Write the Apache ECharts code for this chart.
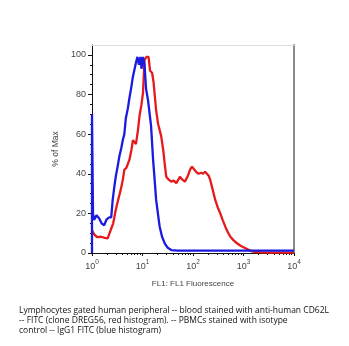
<!DOCTYPE html>
<html><head><meta charset="utf-8">
<script src="https://cdn.jsdelivr.net/npm/echarts@6/dist/echarts.min.js"></script>
<style>html,body{margin:0;padding:0;background:#fff}#c{width:349px;height:346px}</style>
</head><body><div id="c"></div>
<script>
// x positions are log10(FL1 fluorescence); y values are % of Max
var decadeExponents = [0, 1, 2, 3, 4];
var yTickValues = [0, 20, 40, 60, 80, 100];
var redLogFL = [0, 0.04, 0.1, 0.18, 0.25, 0.31, 0.37, 0.42, 0.47, 0.52, 0.57, 0.61, 0.64, 0.68, 0.74, 0.78, 0.81, 0.87, 0.91, 0.94, 0.98, 1.01, 1.04, 1.08, 1.12, 1.15, 1.19, 1.22, 1.27, 1.31, 1.37, 1.41, 1.44, 1.47, 1.52, 1.57, 1.62, 1.67, 1.71, 1.74, 1.79, 1.84, 1.9, 1.94, 1.98, 2.01, 2.06, 2.11, 2.16, 2.2, 2.24, 2.27, 2.31, 2.34, 2.39, 2.44, 2.49, 2.54, 2.59, 2.64, 2.69, 2.74, 2.8, 2.87, 2.95, 3.04, 3.1, 3.17, 3.25, 3.35, 3.5, 3.7, 4];
var redPct = [11.5, 9.5, 8, 8.2, 7.6, 7.4, 11.6, 15, 21.7, 27, 32, 37, 42, 43, 47, 52, 57, 55, 62, 69, 75, 81, 97.5, 99, 99, 92, 91, 86, 72, 65, 59, 52, 45, 38.5, 37, 36, 36.5, 35.3, 37, 38.5, 37, 36, 39, 42, 43.6, 43.6, 41, 40, 40.5, 40, 41, 42, 39, 37, 32, 26.8, 23, 20, 16.5, 13.3, 10.5, 8.2, 6.5, 4.9, 3.5, 2.4, 1.6, 0.8, 0.5, 0.3, 0.2, 0.2, 0.2];
var blueLogFL = [0, 0, 0.02, 0.04, 0.09, 0.14, 0.19, 0.24, 0.29, 0.34, 0.38, 0.41, 0.44, 0.47, 0.51, 0.54, 0.58, 0.61, 0.64, 0.67, 0.71, 0.74, 0.78, 0.81, 0.84, 0.87, 0.9, 0.93, 0.96, 0.98, 1.01, 1.04, 1.07, 1.11, 1.14, 1.17, 1.21, 1.24, 1.27, 1.31, 1.34, 1.39, 1.44, 1.5, 1.57, 1.7, 2, 2.5, 3, 3.5, 4];
var bluePct = [0, 70, 20, 16.7, 19, 17.5, 15, 14, 17, 18, 18, 26.8, 33, 38.5, 44, 48.6, 53, 57, 60, 68, 73, 78, 84, 89, 88, 96, 99, 95, 99, 93, 99, 95, 83, 77, 76, 64, 47, 37, 26.8, 19, 13.3, 8, 4.9, 2.6, 1.5, 1.2, 1.2, 1.2, 1.2, 1.2, 1.2];
var xMinorTicks = [];
for (var d = 0; d < 4; d++) { for (var k = 2; k <= 9; k++) { xMinorTicks.push(d + Math.log10(k)); } }
var yMinorTicks = [];
for (var v = 0; v <= 100; v += 5) { yMinorTicks.push(v); }

function pairs(xs, ys) { return xs.map(function (x, i) { return [x, ys[i]]; }); }

var chart = echarts.init(document.getElementById('c'), null, { renderer: 'canvas' });
var labelFont = 'Liberation Sans';
chart.setOption({
  animation: false,
  backgroundColor: '#fff',
  grid: { left: 92, right: 55, top: 45, bottom: 93, containLabel: false },
  title: {
    text: 'Lymphocytes gated human peripheral -- blood stained with anti-human CD62L\n-- FITC (clone DREG56, red histogram). -- PBMCs stained with isotype\ncontrol -- IgG1 FITC (blue histogram)',
    left: 14, top: 301,
    textStyle: { fontFamily: 'Open Sans', fontSize: 8.5, fontWeight: 'normal', color: '#111', lineHeight: 10 }
  },
  xAxis: [
    {
      type: 'value', min: 0, max: 4, interval: 1, position: 'bottom',
      name: 'FL1: FL1 Fluorescence', nameLocation: 'middle', nameGap: 27,
      nameTextStyle: { fontFamily: labelFont, fontSize: 8, color: '#444' },
      axisLine: { show: true, onZero: false, lineStyle: { color: '#111', width: 1 } },
      axisTick: { show: true, length: 3, lineStyle: { color: '#111' } },
      splitLine: { show: false },
      axisLabel: {
        margin: 6, color: '#444',
        formatter: function (v) { return '{b|10}{s|' + Math.round(v) + '}'; },
        rich: {
          b: { fontFamily: labelFont, fontSize: 9, color: '#444', lineHeight: 12, verticalAlign: 'bottom' },
          s: { fontFamily: labelFont, fontSize: 6.5, color: '#444', lineHeight: 12, verticalAlign: 'top' }
        }
      }
    },
    {
      type: 'value', min: 0, max: 4, position: 'bottom',
      axisLine: { show: false, onZero: false },
      axisTick: { show: true, length: 2, customValues: xMinorTicks, lineStyle: { color: '#111' } },
      axisLabel: { show: false }, splitLine: { show: false }
    },
    {
      type: 'value', min: 0, max: 4, position: 'top',
      axisLine: { show: true, onZero: false, lineStyle: { color: '#dcdcdc', width: 1 } },
      axisTick: { show: false }, axisLabel: { show: false }, splitLine: { show: false }
    }
  ],
  yAxis: [
    {
      type: 'value', min: 0, max: 105, position: 'left',
      name: '% of Max', nameLocation: 'middle', nameGap: 27, nameRotate: 90,
      nameTextStyle: { fontFamily: labelFont, fontSize: 8.5, color: '#444' },
      axisLine: { show: true, onZero: false, lineStyle: { color: '#111', width: 1 } },
      axisTick: { show: true, length: 4, customValues: yTickValues, lineStyle: { color: '#111' } },
      axisLabel: { customValues: yTickValues, margin: 6, fontFamily: labelFont, fontSize: 9, color: '#444' },
      splitLine: { show: false }
    },
    {
      type: 'value', min: 0, max: 105, position: 'left',
      axisLine: { show: false, onZero: false },
      axisTick: { show: true, length: 2, customValues: yMinorTicks, lineStyle: { color: '#111' } },
      axisLabel: { show: false }, splitLine: { show: false }
    },
    {
      type: 'value', min: 0, max: 105, position: 'right',
      axisLine: { show: true, onZero: false, lineStyle: { color: '#8a8a8a', width: 2 } },
      axisTick: { show: false }, axisLabel: { show: false }, splitLine: { show: false }
    }
  ],
  series: [
    {
      type: 'line', name: 'CD62L', data: pairs(redLogFL, redPct), showSymbol: false,
      lineStyle: { color: '#e41a1c', width: 2.3 }, z: 2
    },
    {
      type: 'line', name: 'Isotype', data: pairs(blueLogFL, bluePct), showSymbol: false,
      lineStyle: { color: '#1a1ae0', width: 2.3 }, z: 3
    }
  ]
});
</script></body></html>
